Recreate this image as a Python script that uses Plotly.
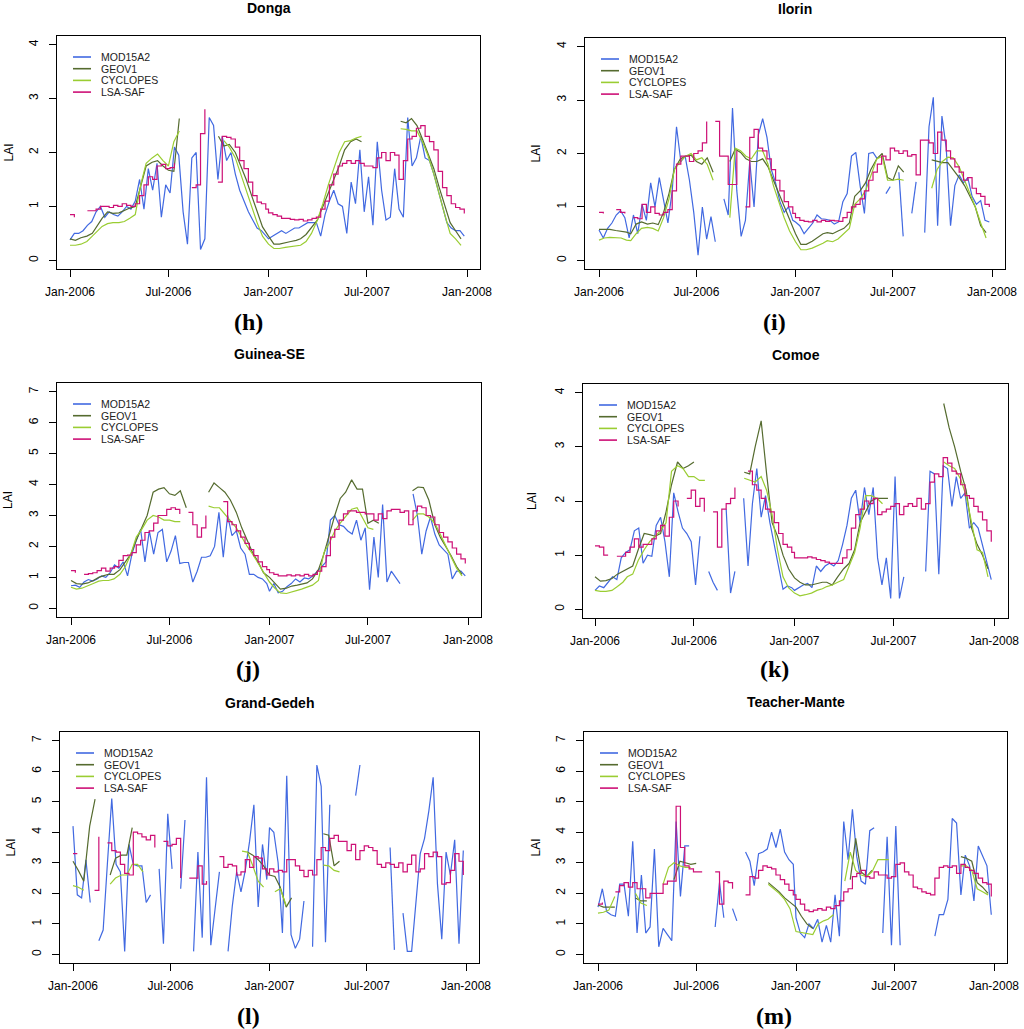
import plotly.graph_objects as go
from datetime import date, datetime, timedelta

N = None
W, H = 1024, 1029

# ---------------- time grids (8-day MODIS / daily-ish LSA sampled on 8-day, dekads) -------------
YEARS = [2006, 2007]
dates_8day = [date(y, 1, 1) + timedelta(days=8 * k) for y in YEARS for k in range(46)]
dates_dekad = [date(y, m, d) for y in YEARS for m in range(1, 13) for d in (1, 11, 21)]

series_names = ["MOD15A2", "GEOV1", "CYCLOPES", "LSA-SAF"]
series_colors = ["#4169E1", "#556B2F", "#9ACD32", "#CD1076"]

xtick_dates = ["2006-01-01", "2006-07-01", "2007-01-01", "2007-07-01", "2008-01-01"]
xtick_labels = ["Jan-2006", "Jul-2006", "Jan-2007", "Jul-2007", "Jan-2008"]

# ---------------- (h) Donga ----------------
donga_mod = [0.38,0.5,0.5,0.55,0.65,0.72,0.9,1.0,0.8,0.9,
             0.85,0.82,0.9,1.0,0.95,1.1,1.5,0.95,1.7,1.3,
             1.8,0.8,1.4,1.25,2.1,1.95,0.9,0.3,1.9,2.0,
             0.2,0.4,2.65,2.5,1.5,2.3,1.85,2.0,1.6,1.3,
             1.1,0.9,0.75,0.6,0.55,0.45,
             0.4,0.45,0.5,0.55,0.5,0.55,0.6,0.6,0.65,0.7,
             0.7,0.7,0.45,0.85,1.1,1.3,1.05,1.0,0.5,1.45,
             1.05,2.05,0.9,1.55,0.65,2.2,1.3,0.75,0.8,1.7,
             0.95,0.8,2.65,1.75,1.9,2.3,1.9,1.85,1.6,1.3,
             1.0,0.7,0.6,0.55,0.55,0.45]
donga_geo = [0.4,0.37,0.42,0.45,0.5,0.65,0.78,0.9,0.87,0.88,
             0.93,0.97,1.0,1.35,1.75,1.82,1.85,1.75,1.67,1.65,
             2.63,N,N,N,N,N,N,2.3,2.12,2.15,
             2.0,1.75,1.5,1.2,0.9,0.62,
             0.45,0.3,0.3,0.33,0.35,0.37,0.4,0.48,0.6,0.75,
             1.0,1.25,1.5,1.75,2.05,2.2,2.25,2.2,N,N,
             N,N,N,N,2.58,2.55,2.63,2.5,2.25,2.0,
             1.7,1.35,1.0,0.7,0.55,0.4]
donga_cyc = [0.28,0.28,0.3,0.35,0.45,0.55,0.63,0.68,0.7,0.7,
             0.72,0.78,0.85,1.4,1.8,1.9,1.97,1.85,1.75,2.2,
             2.4,N,N,N,N,N,N,N,2.22,2.1,
             1.9,1.6,1.3,1.0,0.7,0.45,
             0.3,0.22,0.22,0.24,0.25,0.26,0.28,0.35,0.5,0.75,
             1.05,1.4,1.7,2.0,2.2,2.22,2.27,2.3,N,N,
             N,N,N,N,2.44,2.43,2.4,2.4,2.2,1.95,
             1.6,1.2,0.85,0.5,0.4,0.28]
donga_lsa = [0.85,0.8,N,N,0.92,0.92,0.95,1.0,1.0,0.98,
             1.02,1.0,1.05,1.02,1.0,1.05,1.2,1.4,1.55,1.5,
             1.75,1.78,1.7,1.72,1.8,N,N,N,1.35,1.4,
             2.35,2.8,N,N,1.45,2.3,2.28,2.25,2.1,1.85,
             1.7,1.45,1.2,1.08,1.05,0.95,
             0.88,0.85,0.82,0.78,0.78,0.76,0.75,0.76,0.73,0.75,
             0.78,0.8,0.95,1.1,1.4,1.6,1.75,1.8,1.85,1.8,
             1.85,1.8,1.75,1.75,1.72,1.9,2.0,1.85,2.0,1.95,
             1.5,1.85,2.25,2.3,2.45,2.5,2.3,2.2,2.05,1.65,
             1.35,1.2,1.05,0.98,0.95,0.87]

# ---------------- (i) Ilorin ----------------
ilorin_mod = [0.57,0.42,0.6,0.7,0.85,0.93,0.8,0.42,0.85,0.5,
              1.05,0.75,1.45,1.0,1.55,1.1,0.7,1.3,2.5,1.85,
              1.95,1.5,0.9,0.1,1.0,0.4,0.82,0.35,N,1.15,
              0.85,2.85,1.3,0.45,0.75,1.85,1.0,2.35,2.65,2.3,
              1.7,1.45,1.1,0.9,1.0,0.75,
              0.72,0.65,0.5,0.6,0.7,0.85,0.78,0.77,0.75,0.68,
              0.72,1.1,1.25,1.95,2.02,1.4,0.88,2.0,2.02,1.9,
              N,1.25,1.38,N,1.65,0.45,N,0.88,1.47,N,
              0.52,2.5,3.05,0.65,2.7,2.1,0.65,1.4,1.6,1.45,
              1.55,1.2,1.05,1.12,0.75,0.72]
ilorin_geo = [0.58,0.58,0.58,0.56,0.55,0.53,0.5,0.68,0.72,0.68,
              0.7,0.67,0.9,1.25,1.7,1.9,1.95,1.97,1.85,1.8,
              1.92,1.65,N,N,1.85,2.08,2.02,1.9,1.85,1.85,
              1.9,1.75,1.5,1.25,1.0,0.75,
              0.5,0.3,0.3,0.36,0.43,0.5,0.52,0.5,0.55,0.6,
              0.7,1.2,1.3,1.45,1.7,1.9,2.0,1.55,1.5,1.77,
              1.65,N,N,N,N,1.88,1.85,1.83,1.83,1.7,
              1.55,1.4,1.2,1.0,0.65,0.52]
ilorin_cyc = [0.38,0.42,0.43,0.43,0.42,0.38,0.37,0.5,0.6,0.62,
              0.6,0.55,0.8,1.15,1.7,1.85,1.95,2.0,1.88,1.92,
              1.8,1.5,N,N,0.8,2.1,2.05,1.95,1.9,2.05,
              2.05,1.8,1.4,1.1,0.8,0.55,
              0.35,0.2,0.2,0.23,0.27,0.32,0.37,0.35,0.4,0.5,
              0.6,1.05,1.15,1.3,1.6,1.9,1.95,1.5,1.5,1.52,
              1.5,N,N,N,N,1.35,1.7,1.85,1.93,1.92,
              1.75,1.5,1.25,1.0,0.7,0.42]
ilorin_lsa = [0.9,0.88,N,N,0.95,0.9,0.88,N,0.8,0.78,
              1.05,0.9,1.0,0.88,0.85,0.9,0.95,1.3,1.8,1.95,
              1.95,1.85,2.0,2.05,2.2,2.6,N,2.6,1.95,1.95,
              1.42,1.42,2.05,N,1.0,2.3,2.45,2.1,2.05,1.9,
              1.7,1.5,1.3,1.1,1.0,0.88,
              0.8,0.75,0.73,0.72,0.75,0.72,0.75,0.73,0.75,0.74,
              0.73,0.8,0.9,1.0,1.05,1.15,1.3,1.5,1.65,1.8,
              1.95,1.88,2.1,2.05,2.0,2.05,1.95,1.98,1.6,2.25,
              2.25,2.2,2.0,2.4,2.25,2.05,1.9,1.75,1.65,1.5,
              1.55,1.35,1.25,1.2,1.05,1.0]

# ---------------- (j) Guinea-SE ----------------
guinea_mod = [0.73,0.75,0.68,0.85,0.93,0.88,0.95,1.05,1.0,1.15,
              1.4,1.3,1.5,1.05,1.75,2.2,2.55,1.5,2.5,1.75,
              2.45,2.55,1.5,1.85,2.35,1.45,1.48,1.48,0.85,1.2,
              1.65,1.65,1.7,2.0,3.1,1.65,3.0,2.35,2.5,1.95,
              1.75,1.1,1.1,1.0,0.95,0.8,
              0.55,0.8,0.5,0.55,0.7,0.8,0.95,0.85,0.98,0.95,
              1.05,1.2,1.35,1.5,2.85,3.0,2.7,2.65,2.5,2.4,
              2.85,2.2,2.6,0.6,2.3,1.0,3.35,0.85,1.2,1.0,
              0.8,N,N,3.7,3.0,1.75,2.5,2.95,2.4,2.05,
              1.9,1.75,0.95,1.2,1.2,1.05]
guinea_geo = [0.9,0.8,0.78,0.82,0.9,1.0,1.05,1.1,1.1,1.25,
              1.5,1.75,2.2,2.6,3.0,3.75,3.85,3.9,3.7,3.65,
              3.8,3.25,N,N,N,3.75,4.05,3.9,3.75,3.5,
              3.1,2.6,2.2,1.8,1.5,1.15,
              1.0,0.8,0.62,0.65,0.72,0.75,0.78,0.82,0.95,1.25,
              1.75,2.4,3.0,3.55,3.75,4.15,3.85,3.85,2.75,2.85,
              2.75,N,N,N,N,N,3.8,3.92,3.9,3.5,
              2.7,2.3,2.0,1.7,1.35,1.1]
guinea_cyc = [0.68,0.62,0.65,0.72,0.8,0.88,0.9,0.9,0.95,1.1,
              1.35,1.75,2.3,2.55,2.85,3.0,2.95,2.85,2.85,2.8,
              2.8,N,N,N,N,3.3,3.25,3.25,3.05,2.85,
              2.6,2.3,2.0,1.75,1.45,1.15,
              0.85,0.65,0.5,0.48,0.52,0.58,0.62,0.68,0.75,0.9,
              1.8,2.1,2.5,2.75,2.95,3.2,3.25,2.9,2.6,2.55,
              N,N,N,N,N,N,2.85,3.05,3.05,2.95,
              2.75,2.4,2.0,1.7,1.3,1.05]
guinea_lsa = [1.22,1.15,N,1.1,1.12,1.15,1.22,1.3,1.2,1.3,
              1.35,1.55,1.7,1.72,1.8,2.05,2.2,2.45,2.5,2.75,
              3.0,3.0,3.2,3.25,3.2,3.05,N,3.1,2.7,2.3,
              2.6,3.0,N,N,N,3.45,2.8,2.7,2.5,2.3,
              2.1,1.9,1.7,1.5,1.35,1.25,
              1.15,1.1,1.05,1.05,1.08,1.05,1.08,1.05,1.1,1.05,
              1.1,1.2,1.35,1.7,2.3,2.55,2.85,3.05,3.15,3.15,
              3.1,3.1,3.05,3.05,2.85,3.05,2.9,3.15,3.2,3.2,
              3.1,3.15,2.7,3.15,3.3,3.25,3.0,2.95,2.7,2.45,
              2.3,2.15,1.95,1.75,1.6,1.45]

# ---------------- (k) Comoe ----------------
comoe_mod = [0.35,0.43,0.4,0.5,0.6,0.55,0.95,1.05,1.1,1.45,
             1.5,0.85,1.0,0.98,1.55,1.7,1.25,0.6,2.15,1.8,
             1.5,1.4,1.25,0.45,1.35,N,0.7,0.5,0.35,N,
             1.85,0.3,0.7,N,2.05,0.8,1.95,2.6,1.7,2.1,
             1.6,1.2,0.8,0.37,0.43,0.4,
             0.35,0.4,0.45,0.48,0.4,0.8,0.7,0.8,0.85,0.8,
             0.9,1.2,1.55,2.05,2.2,1.6,2.25,1.75,2.25,0.95,
             0.45,0.95,0.2,2.45,0.2,0.6,N,N,N,N,
             0.7,2.55,2.5,0.65,2.65,2.6,1.9,2.45,2.05,2.15,
             1.5,1.6,1.5,1.2,0.85,0.55]
comoe_geo = [0.6,0.52,0.53,0.57,0.65,0.7,0.75,0.8,1.1,1.4,
             1.38,1.35,1.4,1.8,2.3,2.72,2.6,2.65,2.72,N,
             N,N,N,N,N,N,N,2.53,2.5,3.0,
             3.48,2.5,1.6,1.35,1.0,0.75,
             0.58,0.5,0.45,0.45,0.47,0.5,0.5,0.45,0.6,0.75,
             0.85,1.1,1.6,1.8,2.0,2.05,2.05,2.05,N,N,
             N,N,N,N,N,N,N,3.8,3.35,3.0,
             2.55,2.2,1.5,1.2,1.0,0.75]
comoe_cyc = [0.35,0.33,0.33,0.35,0.42,0.5,0.6,0.65,0.9,1.1,
             1.25,1.35,1.45,1.6,2.55,2.65,2.6,2.45,2.45,2.38,
             2.38,N,N,N,N,N,N,2.42,2.38,2.35,
             2.45,2.2,1.75,1.1,0.6,0.4,
             0.3,0.25,0.27,0.3,0.35,0.38,0.42,0.45,0.5,0.55,
             0.8,1.05,1.5,2.1,2.1,2.05,1.95,N,N,N,
             N,N,N,N,N,N,N,2.72,2.65,2.6,
             2.4,2.1,1.6,1.1,1.05,0.6]
comoe_lsa = [1.17,1.15,1.0,1.0,N,0.98,0.98,1.05,1.15,1.3,
             1.15,1.2,1.2,1.3,1.45,1.55,1.35,1.7,2.0,1.9,
             N,2.05,2.2,1.9,2.05,1.8,N,1.8,1.15,1.85,
             1.95,2.05,2.25,N,N,2.55,2.3,2.2,2.05,1.85,
             1.8,1.6,1.4,1.2,1.15,1.05,
             0.95,0.95,0.95,0.97,0.95,0.92,0.9,0.87,0.85,0.85,
             0.85,0.95,1.1,1.5,1.75,1.85,2.0,1.95,2.05,1.75,
             1.8,1.85,1.9,1.95,1.75,1.9,1.95,1.9,2.05,1.85,
             1.95,2.35,2.5,2.45,2.8,2.7,2.55,2.5,2.3,2.1,
             2.05,1.9,1.8,1.65,1.45,1.25]

# ---------------- (l) Grand-Gedeh ----------------
gedeh_mod = [4.2,1.95,1.85,3.1,1.7,N,0.45,0.8,3.0,5.1,
             2.95,2.7,0.1,3.6,2.95,2.9,2.9,1.7,1.95,N,
             2.8,0.35,4.6,2.8,N,2.15,4.4,N,0.1,3.35,
             0.55,5.8,0.3,1.6,2.7,N,0.1,1.6,2.7,2.05,
             2.75,3.7,4.9,1.55,3.6,2.45,
             4.15,4.0,3.0,0.7,5.85,0.65,0.2,0.5,1.75,N,
             0.25,6.2,5.5,0.4,4.9,N,N,N,N,N,
             5.2,6.2,N,N,N,N,N,N,3.5,0.15,
             N,1.35,0.1,0.1,1.8,3.3,3.8,4.7,5.8,2.3,
             0.5,3.35,2.6,3.75,0.35,3.4]
gedeh_geo = [3.05,2.75,2.4,4.2,5.08,N,N,2.6,3.15,3.25,
             3.25,4.15,N,N,N,N,N,N,N,N,
             N,N,N,N,N,N,N,N,N,N,
             N,N,3.35,3.25,3.1,2.9,
             2.6,2.55,2.2,1.55,1.85,N,N,N,N,N,
             3.95,3.9,2.9,3.05,N,N,N,N,N,N,
             N,N,N,N,N,N,N,N,N,N,
             N,N,N,N,N,N]
gedeh_cyc = [2.25,2.2,2.1,N,N,N,N,2.3,2.5,2.6,
             2.6,2.95,2.95,2.7,N,N,N,N,N,N,
             N,N,N,N,N,N,N,N,N,N,
             N,3.38,3.35,2.9,2.4,2.2,
             N,2.05,2.15,1.6,N,N,N,N,N,N,
             2.92,2.9,2.75,2.7,N,N,N,N,N,N,
             N,N,N,N,N,N,N,N,N,N,
             N,N,N,N,N,N]
gedeh_lsa = [3.3,3.3,N,N,N,2.1,3.85,N,3.65,3.4,
             3.35,2.95,2.65,2.6,4.0,3.95,3.85,3.75,3.9,3.5,
             N,3.7,3.55,3.6,3.8,2.5,N,2.5,2.5,2.9,
             2.3,2.4,N,N,3.2,2.85,2.95,2.9,2.6,2.7,
             3.1,2.85,3.2,3.15,2.8,2.6,
             2.8,2.7,2.75,2.7,3.1,3.1,2.9,2.75,2.55,2.75,
             2.6,3.1,3.5,3.4,3.8,3.9,3.7,3.7,3.4,3.6,
             3.1,3.4,3.55,3.5,3.4,2.95,2.85,3.0,2.95,2.85,
             3.0,2.7,2.95,3.25,2.7,2.8,3.3,3.2,3.35,3.2,
             2.3,2.35,2.75,3.3,3.05,2.6]

# ---------------- (m) Teacher-Mante ----------------
mante_mod = [1.55,2.15,1.4,1.3,1.25,2.3,2.3,1.25,3.7,0.7,
             2.6,0.7,0.9,3.45,0.25,0.85,0.65,0.45,4.35,1.9,
             3.55,3.55,N,N,N,N,N,0.9,2.35,1.2,
             N,1.5,1.1,N,3.35,3.05,2.25,3.3,3.35,3.45,
             4.0,3.5,4.1,3.35,3.1,2.95,
             1.2,0.7,0.55,1.0,0.85,1.15,0.4,0.95,0.4,1.95,
             0.6,4.35,3.1,4.75,3.2,2.4,2.3,4.05,4.15,N,
             0.7,3.85,0.3,4.2,0.3,N,N,N,N,N,
             N,N,0.6,1.3,1.3,1.8,4.45,4.3,1.95,3.25,
             2.9,1.75,3.55,3.25,2.9,1.3]
mante_geo = [1.62,1.55,1.55,1.55,N,N,N,1.85,1.75,1.75,
             N,N,N,N,2.45,3.05,3.0,2.95,2.98,N,
             N,N,N,N,N,N,N,N,N,N,
             N,2.35,2.2,2.05,1.85,1.7,
             1.55,1.25,1.0,0.85,N,N,N,N,N,N,
             2.45,3.8,2.7,2.55,2.75,N,N,N,N,N,
             N,N,N,N,N,N,N,N,N,N,
             3.2,3.15,3.05,2.35,2.2,2.0]
mante_cyc = [1.35,1.38,1.45,1.9,N,N,N,2.0,1.68,1.6,
             N,N,2.3,2.85,3.0,2.9,2.85,2.85,N,N,
             N,N,N,N,N,N,N,N,N,N,
             N,2.3,2.15,2.0,1.8,1.5,
             0.75,0.72,0.7,0.65,1.0,1.1,1.15,1.3,N,2.4,
             3.35,2.75,2.6,2.55,2.7,3.1,3.1,3.1,N,N,
             N,N,N,N,N,N,N,N,N,N,
             2.9,2.9,2.75,2.15,2.05,1.95]
mante_lsa = [1.65,1.7,N,N,2.05,2.25,2.35,2.2,2.35,2.15,
             2.15,1.85,2.0,2.0,2.0,2.3,2.4,2.4,4.85,3.5,
             2.9,2.8,2.7,2.7,2.7,N,N,2.7,1.65,2.4,
             2.35,2.15,N,N,1.95,2.55,2.5,2.75,2.9,2.85,
             2.8,2.6,2.45,2.3,2.1,1.95,
             1.8,1.65,1.45,1.4,1.45,1.5,1.45,1.55,1.5,1.6,
             1.75,2.05,2.15,2.55,2.65,2.75,2.55,2.5,2.7,2.6,
             2.6,2.5,2.55,2.95,3.0,2.7,2.6,2.2,2.15,2.05,
             2.0,1.95,2.5,2.85,2.9,2.85,2.9,2.65,2.95,2.85,
             2.75,2.65,2.5,2.35,2.3,1.9]

# ---------------- panel layout (pixel geometry of the reference) ----------------
panels = [
    dict(title="Donga", label="(h)", data=(donga_mod, donga_geo, donga_cyc, donga_lsa), ymax=4,
         box=(57, 36, 480, 269), jan=(70, 467), title_y=8, label_xy=(248, 322), lai_x=8),
    dict(title="Ilorin", label="(i)", data=(ilorin_mod, ilorin_geo, ilorin_cyc, ilorin_lsa), ymax=4,
         box=(585, 38, 1005, 269), jan=(599, 992), title_y=9, label_xy=(774, 322), lai_x=535),
    dict(title="Guinea-SE", label="(j)", data=(guinea_mod, guinea_geo, guinea_cyc, guinea_lsa), ymax=7,
         box=(57, 383, 481, 617), jan=(71, 468), title_y=354, label_xy=(248, 669), lai_x=8),
    dict(title="Comoe", label="(k)", data=(comoe_mod, comoe_geo, comoe_cyc, comoe_lsa), ymax=4,
         box=(583, 384, 1008, 618), jan=(595, 994), title_y=355, label_xy=(774, 669), lai_x=532),
    dict(title="Grand-Gedeh", label="(l)", data=(gedeh_mod, gedeh_geo, gedeh_cyc, gedeh_lsa), ymax=7,
         box=(60, 732, 479, 963), jan=(73, 466), title_y=703, label_xy=(248, 1016), lai_x=10),
    dict(title="Teacher-Mante", label="(m)", data=(mante_mod, mante_geo, mante_cyc, mante_lsa), ymax=7,
         box=(584, 732, 1007, 963), jan=(598, 994), title_y=702, label_xy=(774, 1016), lai_x=535),
]

SANS = "Liberation Sans, Arial, Helvetica, sans-serif"
SERIF = "Liberation Serif, Times New Roman, serif"

def px(x):
    return x / W

def py(y):
    return 1 - y / H

fig = go.Figure()
annotations = []
shapes = []
layout_axes = {}

t0 = datetime(2006, 1, 1)
t1 = datetime(2008, 1, 1)

for n, p in enumerate(panels, start=1):
    sfx = "" if n == 1 else str(n)
    xa, ya = "x" + sfx, "y" + sfx
    mod, geo, cyc, lsa = p["data"]
    traces = [
        (dates_8day, mod, "linear"),
        (dates_dekad, geo, "linear"),
        (dates_dekad, cyc, "linear"),
        (dates_8day, lsa, "hv"),
    ]
    for (xs, ys, shp), name, col in zip(traces, series_names, series_colors):
        fig.add_trace(go.Scatter(
            x=xs, y=ys, mode="lines", name=name, showlegend=False,
            line=dict(color=col, width=1.2, shape=shp),
            connectgaps=False, xaxis=xa, yaxis=ya,
            hoverinfo="x+y+name"))

    L, T, R, B = p["box"]
    j0, j1 = p["jan"]
    dpp = (t1 - t0).days / (j1 - j0)
    xr0 = t0 - timedelta(days=(j0 - L) * dpp)
    xr1 = t1 + timedelta(days=(R - j1) * dpp)
    ymax = p["ymax"]
    common = dict(showline=True, linecolor="black", linewidth=1.4, mirror=True,
                  ticks="outside", ticklen=7, tickwidth=1, tickcolor="black",
                  showgrid=False, zeroline=False, automargin=False,
                  tickfont=dict(family=SANS, size=12, color="black"))
    layout_axes["xaxis" + sfx] = dict(
        domain=[px(L), px(R)], anchor=ya,
        range=[xr0.isoformat(), xr1.isoformat()], type="date",
        tickmode="array", tickvals=xtick_dates, ticktext=xtick_labels,
        tickangle=0, ticklabelstandoff=4, **common)
    layout_axes["yaxis" + sfx] = dict(
        domain=[py(B), py(T)], anchor=xa,
        range=[-0.04 * ymax, 1.04 * ymax],
        tickmode="array", tickvals=list(range(ymax + 1)),
        ticktext=[str(v) for v in range(ymax + 1)],
        tickangle=-90, ticklabelstandoff=6, **common)

    # title
    annotations.append(dict(text="<b>" + p["title"] + "</b>", x=px((L + R) / 2), y=py(p["title_y"]),
                            xref="paper", yref="paper", showarrow=False,
                            xanchor="center", yanchor="middle",
                            font=dict(family=SANS, size=14, color="black")))
    # y-axis label
    annotations.append(dict(text="LAI", x=px(p["lai_x"]), y=py((T + B) / 2),
                            xref="paper", yref="paper", showarrow=False, textangle=-90,
                            xanchor="center", yanchor="middle",
                            font=dict(family=SANS, size=12, color="black")))
    # panel label
    lx, ly = p["label_xy"]
    annotations.append(dict(text="<b>" + p["label"] + "</b>", x=px(lx), y=py(ly),
                            xref="paper", yref="paper", showarrow=False,
                            xanchor="center", yanchor="middle",
                            font=dict(family=SERIF, size=24, color="black")))
    # legend (drawn inside the plot box, top-left, no frame)
    for k, (name, col) in enumerate(zip(series_names, series_colors)):
        yy = T + 21 + 11.7 * k
        shapes.append(dict(type="line", xref="paper", yref="paper",
                           x0=px(L + 16), x1=px(L + 34), y0=py(yy), y1=py(yy),
                           line=dict(color=col, width=1.6)))
        annotations.append(dict(text=name, x=px(L + 42), y=py(yy),
                                xref="paper", yref="paper", showarrow=False,
                                xanchor="left", yanchor="middle",
                                font=dict(family=SANS, size=10.5, color="#222222")))

fig.update_layout(
    width=W, height=H, autosize=False,
    margin=dict(l=0, r=0, t=0, b=0, pad=0, autoexpand=False),
    paper_bgcolor="white", plot_bgcolor="white",
    showlegend=False,
    annotations=annotations, shapes=shapes,
    font=dict(family=SANS, color="black"),
    **layout_axes,
)

fig.write_html("out.html",
               config={"displayModeBar": False},
               post_script="document.body.style.margin='0px';document.body.style.overflow='hidden';")
